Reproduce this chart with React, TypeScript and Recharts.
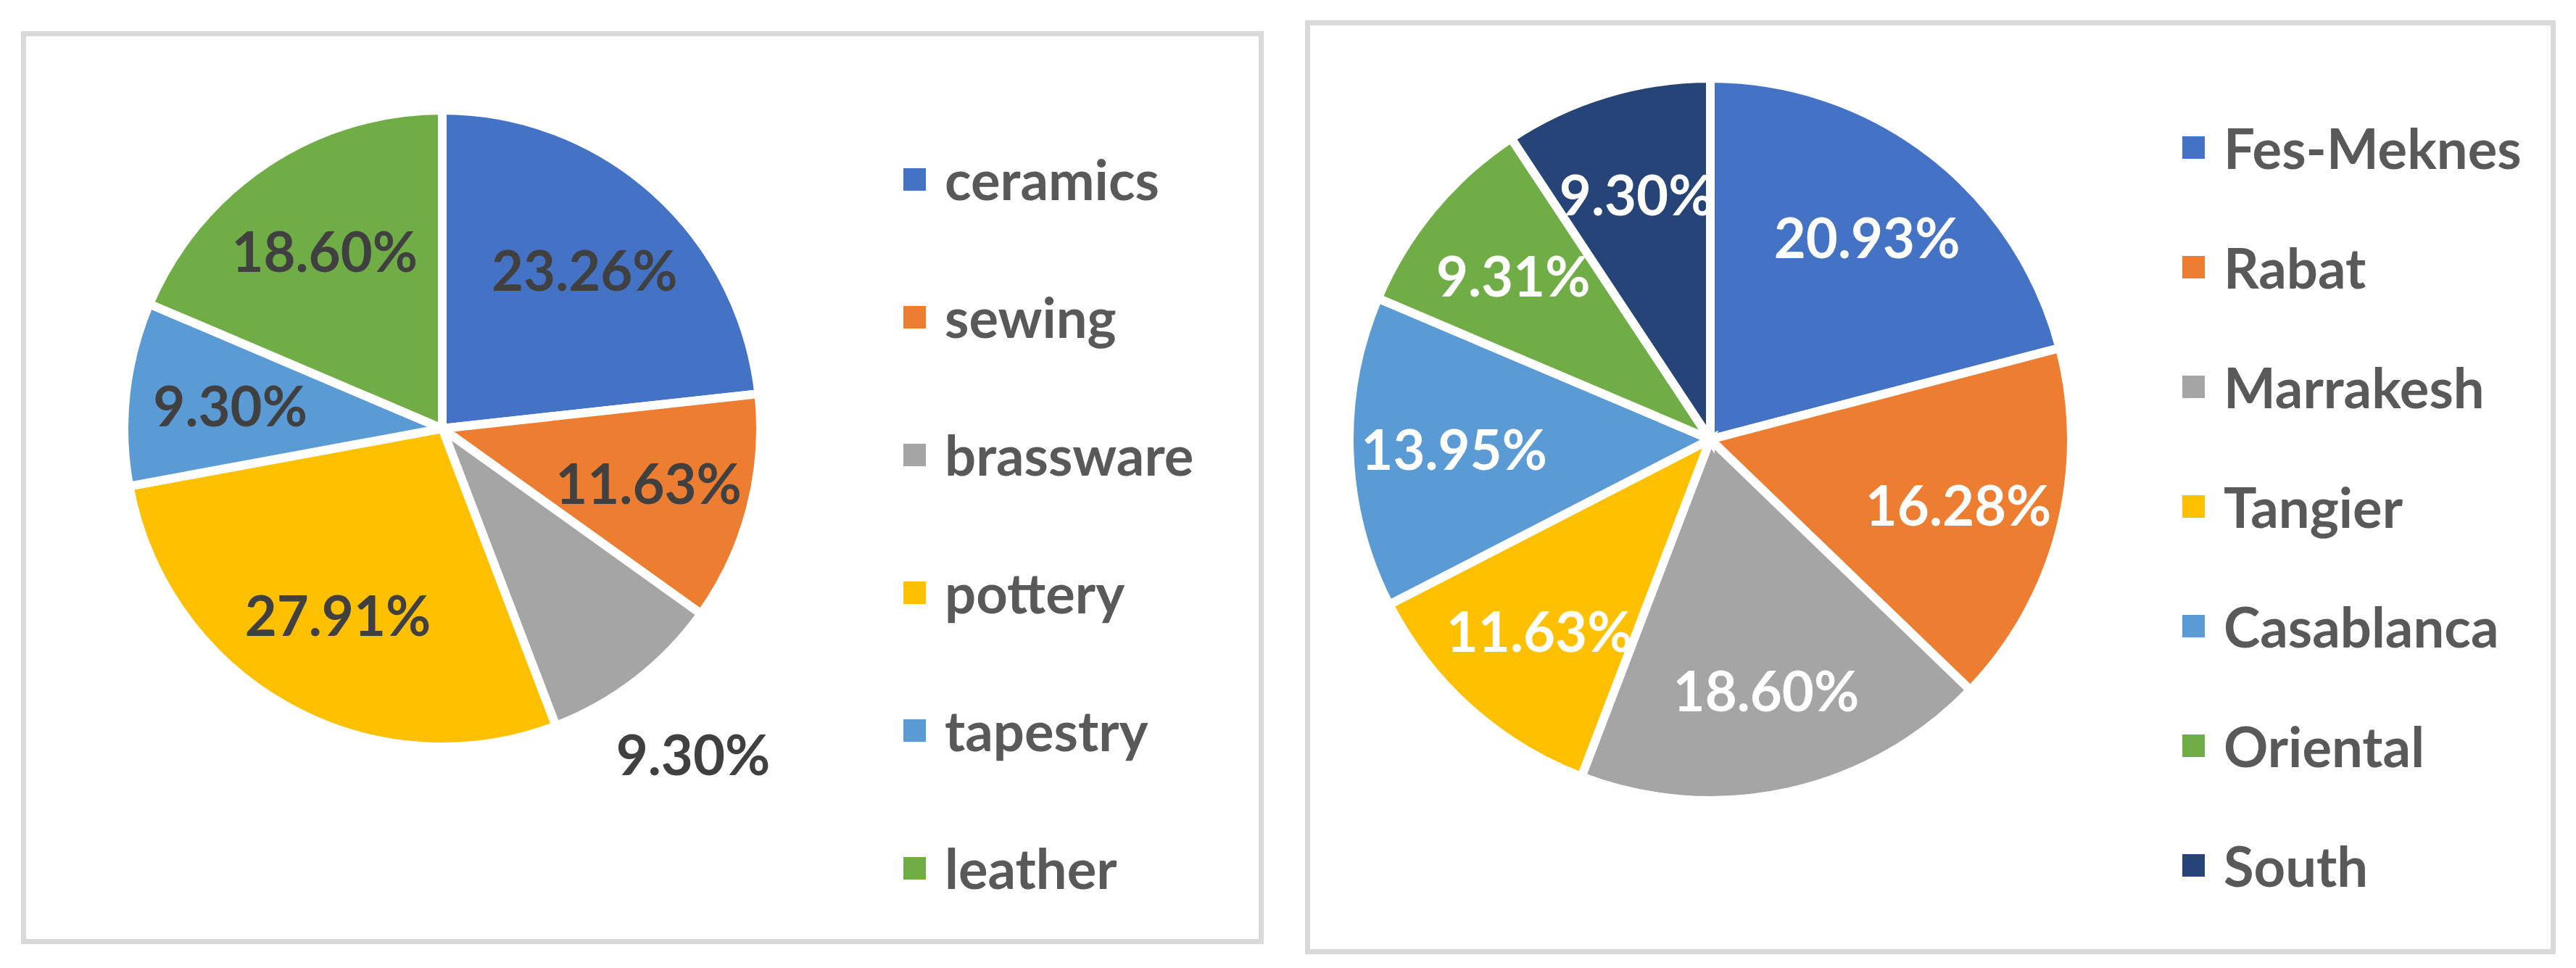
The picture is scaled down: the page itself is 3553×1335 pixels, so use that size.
import React from 'react';
import { PieChart, Pie, Cell, Legend } from 'recharts';

const craftCategories = ['ceramics', 'sewing', 'brassware', 'pottery', 'tapestry', 'leather'];
const craftShares = [23.26, 11.63, 9.3, 27.91, 9.3, 18.6];

const regionCategories = ['Fes-Meknes', 'Rabat', 'Marrakesh', 'Tangier', 'Casablanca', 'Oriental', 'South'];
const regionShares = [20.93, 16.28, 18.6, 11.63, 13.95, 9.31, 9.3];

const palette = ['#4472C4', '#ED7D31', '#A5A5A5', '#FFC000', '#5B9BD5', '#70AD47', '#264478'];
// slices whose label sits outside the pie (Excel "best fit")
const outsideLabels = ['brassware'];

const FONT = 'Lato, "Open Sans", sans-serif';
const RAD = Math.PI / 180;

const makeLabel = (color: string, insideFactor: number, outsideFactor: number) => (props: any) => {
  const { cx, cy, midAngle, outerRadius, value, name } = props;
  const f = outsideLabels.includes(name) ? outsideFactor : insideFactor;
  const r = outerRadius * f;
  const x = cx + r * Math.cos(-midAngle * RAD);
  const y = cy + r * Math.sin(-midAngle * RAD);
  return (
    <text
      x={x}
      y={y}
      fill={color}
      textAnchor="middle"
      dominantBaseline="central"
      style={{ fontFamily: FONT, fontWeight: 700, fontSize: 76 }}
    >
      {`${Number(value).toFixed(2)}%`}
    </text>
  );
};

// legend keeps the data order (Recharts sorts its payload by name otherwise)
const makeLegend = (names: string[], rowGap: number) => () => (
  <div style={{ fontFamily: FONT }}>
    {names.map((name, i) => (
      <div key={`leg-${i}`} style={{ height: rowGap, display: 'flex', alignItems: 'center' }}>
        <span style={{ width: 31, height: 31, background: palette[i], display: 'inline-block', marginRight: 26 }} />
        <span style={{ fontSize: 76, fontWeight: 700, color: '#595959', lineHeight: 1 }}>{name}</span>
      </div>
    ))}
  </div>
);

const Panel = ({ left, top, width, height, children }: any) => (
  <div
    style={{
      position: 'absolute',
      left,
      top,
      width,
      height,
      boxSizing: 'border-box',
      border: '7px solid #d9d9d9',
      background: '#fff',
    }}
  >
    {children}
  </div>
);

const CraftPie = () => {
  const data = craftCategories.map((name, i) => ({ name, value: craftShares[i] }));
  return (
    <PieChart width={1700} height={1245} margin={{ top: 0, right: 0, bottom: 0, left: 0 }}>
      <Pie
        data={data}
        dataKey="value"
        nameKey="name"
        cx={574}
        cy={541}
        outerRadius={439}
        startAngle={90}
        endAngle={-270}
        stroke="#fff"
        strokeWidth={12}
        labelLine={false}
        label={makeLabel('#404040', 0.67, 1.29)}
        isAnimationActive={false}
      >
        {data.map((d, i) => (
          <Cell key={`craft-${i}`} fill={palette[i]} />
        ))}
      </Pie>
      <Legend
        layout="vertical"
        align="right"
        verticalAlign="top"
        wrapperStyle={{ left: 1210, top: 102, width: 480, right: 'auto' }}
        content={makeLegend(craftCategories, 190)}
      />
    </PieChart>
  );
};

const RegionPie = () => {
  const data = regionCategories.map((name, i) => ({ name, value: regionShares[i] }));
  return (
    <PieChart width={1711} height={1274} margin={{ top: 0, right: 0, bottom: 0, left: 0 }}>
      <Pie
        data={data}
        dataKey="value"
        nameKey="name"
        cx={552}
        cy={571}
        outerRadius={498}
        startAngle={90}
        endAngle={-270}
        stroke="#fff"
        strokeWidth={12}
        labelLine={false}
        label={makeLabel('#ffffff', 0.71, 1.27)}
        isAnimationActive={false}
      >
        {data.map((d, i) => (
          <Cell key={`region-${i}`} fill={palette[i]} />
        ))}
      </Pie>
      <Legend
        layout="vertical"
        align="right"
        verticalAlign="top"
        wrapperStyle={{ left: 1203, top: 86, width: 500, right: 'auto' }}
        content={makeLegend(regionCategories, 165)}
      />
    </PieChart>
  );
};

export default function App() {
  return (
    <div style={{ position: 'absolute', left: 0, top: 0, width: 3553, height: 1335, background: '#fff' }}>
      <Panel left={29} top={43} width={1714} height={1259}>
        <CraftPie />
      </Panel>
      <Panel left={1800} top={28} width={1725} height={1288}>
        <RegionPie />
      </Panel>
    </div>
  );
}
